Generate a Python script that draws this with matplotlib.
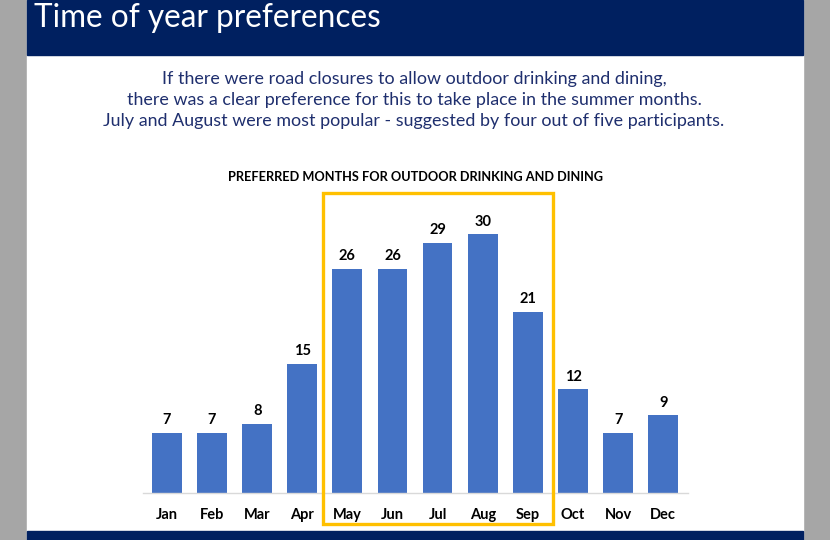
import matplotlib.pyplot as plt
from matplotlib.patches import Rectangle

# Data ........................................................................
months = ["Jan", "Feb", "Mar", "Apr", "May", "Jun", "Jul", "Aug", "Sep", "Oct", "Nov", "Dec"]
counts = [7, 7, 8, 15, 26, 26, 29, 30, 21, 12, 7, 9]

title = "Time of year preferences"
subtitle = ("If there were road closures to allow outdoor drinking and dining,\n"
            "there was a clear preference for this to take place in the summer months.\n"
            "July and August were most popular - suggested by four out of five participants.")
chart_title = "PREFERRED MONTHS FOR OUTDOOR DRINKING AND DINING"

navy = "#002060"
bar_blue = "#4472c4"
gold = "#ffc000"

plt.rcParams["font.family"] = ["Lato", "DejaVu Sans"]

W, H = 830, 540
fig = plt.figure(figsize=(W / 100, H / 100), dpi=100)
fig.patch.set_facecolor("#a6a6a6")

def px(x, y):
    # pixel (from top-left) to figure fraction
    return x / W, 1 - y / H

# Slide background and bands
fig.patches.append(Rectangle(px(27, 540), 776 / W, 1, transform=fig.transFigure, color="white", zorder=-5))
fig.patches.append(Rectangle(px(27, 55), 776 / W, 55 / H, transform=fig.transFigure, color=navy, zorder=-4))
fig.patches.append(Rectangle(px(27, 540), 776 / W, 9 / H, transform=fig.transFigure, color=navy, zorder=-4))

fig.text(*px(34, 18), title, color="white", fontsize=22.7, va="center", ha="left")
fig.text(*px(414, 100), subtitle, color="#1f2f6e", fontsize=12.9, ha="center", va="center",
         linespacing=1.42)
fig.text(*px(415, 177), chart_title, color="black", fontsize=9.2, fontweight="bold",
         ha="center", va="center")

# Chart .......................................................................
ax = fig.add_axes([143 / W, 1 - 493 / H, (688 - 143) / W, (493 - 200) / H])
ax.set_zorder(2)
ax.set_facecolor("none")
x = range(len(months))
bars = ax.bar(x, counts, width=0.66, color=bar_blue, zorder=2)
ax.set_xlim(-0.53, 11.55)
ax.set_ylim(0, 293 / 8.63)

for b, v in zip(bars, counts):
    ax.annotate(str(v), (b.get_x() + b.get_width() / 2, v), xytext=(0, 4),
                textcoords="offset points", ha="center", va="bottom",
                fontsize=10.5, fontweight="bold")

ax.set_xticks(list(x))
ax.set_xticklabels(months, fontsize=10.5, fontweight="bold")
ax.tick_params(axis="x", length=0, pad=11)
ax.set_yticks([])
for side in ["top", "left", "right"]:
    ax.spines[side].set_visible(False)
ax.spines["bottom"].set_color("#d9d9d9")
ax.spines["bottom"].set_linewidth(1)

# Highlight box for the summer months
fig.patches.append(Rectangle(px(323, 524), (553 - 323) / W, (524 - 193) / H,
                             transform=fig.transFigure, fill=False, edgecolor=gold,
                             linewidth=2.4, zorder=5))

plt.savefig("out.png", dpi=100)
